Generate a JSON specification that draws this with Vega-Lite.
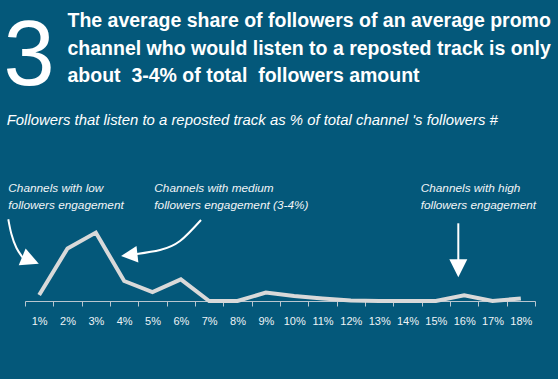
{
  "$schema": "https://vega.github.io/schema/vega-lite/v6.json",
  "width": 510,
  "height": 300,
  "autosize": "none",
  "padding": {"left": 25, "top": 1, "right": 23, "bottom": 78},
  "background": "#04587a",
  "config": {"view": {"stroke": null}},
  "datasets": {
    "share": [
      {"pct": "1%", "share": 3},
      {"pct": "2%", "share": 26.3},
      {"pct": "3%", "share": 34.2},
      {"pct": "4%", "share": 10},
      {"pct": "5%", "share": 4.5},
      {"pct": "6%", "share": 10.8},
      {"pct": "7%", "share": 0},
      {"pct": "8%", "share": 0},
      {"pct": "9%", "share": 4.2},
      {"pct": "10%", "share": 2.5},
      {"pct": "11%", "share": 1.3},
      {"pct": "12%", "share": 0.3},
      {"pct": "13%", "share": 0},
      {"pct": "14%", "share": 0},
      {"pct": "15%", "share": 0},
      {"pct": "16%", "share": 2.8},
      {"pct": "17%", "share": 0},
      {"pct": "18%", "share": 1.3}
    ],
    "arrows": [
      {"arrow": "low", "step": 1, "ax": -0.589, "ay": 40.85},
      {"arrow": "low", "step": 2, "ax": -0.48, "ay": 33.5},
      {"arrow": "low", "step": 3, "ax": -0.3, "ay": 26.5},
      {"arrow": "low", "step": 4, "ax": -0.07, "ay": 21.5},
      {"arrow": "medium", "step": 1, "ax": 6.212, "ay": 40.5},
      {"arrow": "medium", "step": 2, "ax": 5.471, "ay": 30},
      {"arrow": "medium", "step": 3, "ax": 4.765, "ay": 25.5},
      {"arrow": "medium", "step": 4, "ax": 3.95, "ay": 23.5},
      {"arrow": "high", "step": 1, "ax": 15.293, "ay": 38.85},
      {"arrow": "high", "step": 2, "ax": 15.293, "ay": 20.5}
    ]
  },
  "layer": [
    {
      "data": {"name": "share"},
      "mark": {"type": "line", "color": "#d9d9d9", "strokeWidth": 4, "strokeJoin": "miter"},
      "encoding": {
        "x": {
          "field": "pct", "type": "ordinal", "sort": null,
          "scale": {"type": "band", "paddingInner": 0, "paddingOuter": 0},
          "axis": {
            "title": null, "labelAngle": 0, "grid": false,
            "domainColor": "#b9c6cf", "tickColor": "#b9c6cf", "tickSize": 5, "tickBand": "extent",
            "labelColor": "#eef3f6", "labelFont": "Liberation Sans, Arial, sans-serif",
            "labelFontSize": 11, "labelPadding": 9
          }
        },
        "y": {"field": "share", "type": "quantitative", "scale": {"domain": [0, 150], "nice": false}, "axis": null}
      }
    },
    {
      "data": {"name": "arrows"},
      "mark": {"type": "line", "color": "white", "strokeWidth": 2, "interpolate": "natural"},
      "encoding": {
        "x": {"field": "ax", "type": "quantitative", "scale": {"domain": [0, 18], "nice": false, "zero": false}, "axis": null},
        "y": {"field": "ay", "type": "quantitative", "scale": {"domain": [0, 150], "nice": false}, "axis": null},
        "detail": {"field": "arrow"},
        "order": {"field": "step"}
      }
    },
    {
      "data": {"values": [{}]},
      "mark": {"type": "point", "shape": "M-1,-1L1,-1L0,1Z", "size": 324, "filled": true, "color": "white", "opacity": 1, "angle": -67.4},
      "encoding": {
        "x": {"datum": 0.194, "type": "quantitative", "scale": {"domain": [0, 18], "nice": false, "zero": false}, "axis": null},
        "y": {"datum": 20.35, "type": "quantitative", "scale": {"domain": [0, 150], "nice": false}, "axis": null}
      }
    },
    {
      "data": {"values": [{}]},
      "mark": {"type": "point", "shape": "M-1,-1L1,-1L0,1Z", "size": 272, "filled": true, "color": "white", "opacity": 1, "angle": 83.6},
      "encoding": {
        "x": {"datum": 3.679, "type": "quantitative", "scale": {"domain": [0, 18], "nice": false, "zero": false}, "axis": null},
        "y": {"datum": 22.95, "type": "quantitative", "scale": {"domain": [0, 150], "nice": false}, "axis": null}
      }
    },
    {
      "data": {"values": [{}]},
      "mark": {"type": "point", "shape": "M-1,-1L1,-1L0,1Z", "size": 324, "filled": true, "color": "white", "opacity": 1, "angle": 0},
      "encoding": {
        "x": {"datum": 15.293, "type": "quantitative", "scale": {"domain": [0, 18], "nice": false, "zero": false}, "axis": null},
        "y": {"datum": 16.35, "type": "quantitative", "scale": {"domain": [0, 150], "nice": false}, "axis": null}
      }
    },
    {
      "data": {"values": [{}]},
      "mark": {"type": "text", "text": "3", "font": "Liberation Sans, Arial, sans-serif", "fontSize": 92, "color": "white", "align": "center", "baseline": "alphabetic"},
      "encoding": {
        "x": {"datum": 0.141, "type": "quantitative", "scale": {"domain": [0, 18], "nice": false, "zero": false}, "axis": null},
        "y": {"datum": 108, "type": "quantitative", "scale": {"domain": [0, 150], "nice": false}, "axis": null}
      }
    },
    {
      "data": {"values": [{}]},
      "mark": {"type": "text", "text": ["The average share of followers of an average promo", "channel who would listen to a reposted track is only", "about\u00a0 3-4% of total\u00a0 followers amount"], "font": "Liberation Sans, Arial, sans-serif", "fontWeight": "bold", "fontSize": 19.5, "lineHeight": 27.5, "color": "white", "align": "left", "baseline": "alphabetic"},
      "encoding": {
        "x": {"datum": 1.5, "type": "quantitative", "scale": {"domain": [0, 18], "nice": false, "zero": false}, "axis": null},
        "y": {"datum": 136.85, "type": "quantitative", "scale": {"domain": [0, 150], "nice": false}, "axis": null}
      }
    },
    {
      "data": {"values": [{}]},
      "mark": {"type": "text", "text": "Followers that listen to a reposted track as % of total channel 's followers #", "font": "Liberation Sans, Arial, sans-serif", "fontStyle": "italic", "fontSize": 14.9, "color": "white", "align": "left", "baseline": "alphabetic"},
      "encoding": {
        "x": {"datum": -0.646, "type": "quantitative", "scale": {"domain": [0, 18], "nice": false, "zero": false}, "axis": null},
        "y": {"datum": 88, "type": "quantitative", "scale": {"domain": [0, 150], "nice": false}, "axis": null}
      }
    },
    {
      "data": {"values": [{}]},
      "mark": {"type": "text", "text": ["Channels with low", "followers engagement"], "font": "Liberation Sans, Arial, sans-serif", "fontStyle": "italic", "fontSize": 11.8, "lineHeight": 17, "color": "#f2f5f7", "align": "left", "baseline": "alphabetic"},
      "encoding": {
        "x": {"datum": -0.589, "type": "quantitative", "scale": {"domain": [0, 18], "nice": false, "zero": false}, "axis": null},
        "y": {"datum": 54.65, "type": "quantitative", "scale": {"domain": [0, 150], "nice": false}, "axis": null}
      }
    },
    {
      "data": {"values": [{}]},
      "mark": {"type": "text", "text": ["Channels with medium", "followers engagement (3-4%)"], "font": "Liberation Sans, Arial, sans-serif", "fontStyle": "italic", "fontSize": 11.8, "lineHeight": 17, "color": "#f2f5f7", "align": "left", "baseline": "alphabetic"},
      "encoding": {
        "x": {"datum": 4.564, "type": "quantitative", "scale": {"domain": [0, 18], "nice": false, "zero": false}, "axis": null},
        "y": {"datum": 54.65, "type": "quantitative", "scale": {"domain": [0, 150], "nice": false}, "axis": null}
      }
    },
    {
      "data": {"values": [{}]},
      "mark": {"type": "text", "text": ["Channels with high", "followers engagement"], "font": "Liberation Sans, Arial, sans-serif", "fontStyle": "italic", "fontSize": 11.8, "lineHeight": 17, "color": "#f2f5f7", "align": "left", "baseline": "alphabetic"},
      "encoding": {
        "x": {"datum": 13.966, "type": "quantitative", "scale": {"domain": [0, 18], "nice": false, "zero": false}, "axis": null},
        "y": {"datum": 54.65, "type": "quantitative", "scale": {"domain": [0, 150], "nice": false}, "axis": null}
      }
    }
  ],
  "resolve": {"scale": {"x": "independent"}}
}
